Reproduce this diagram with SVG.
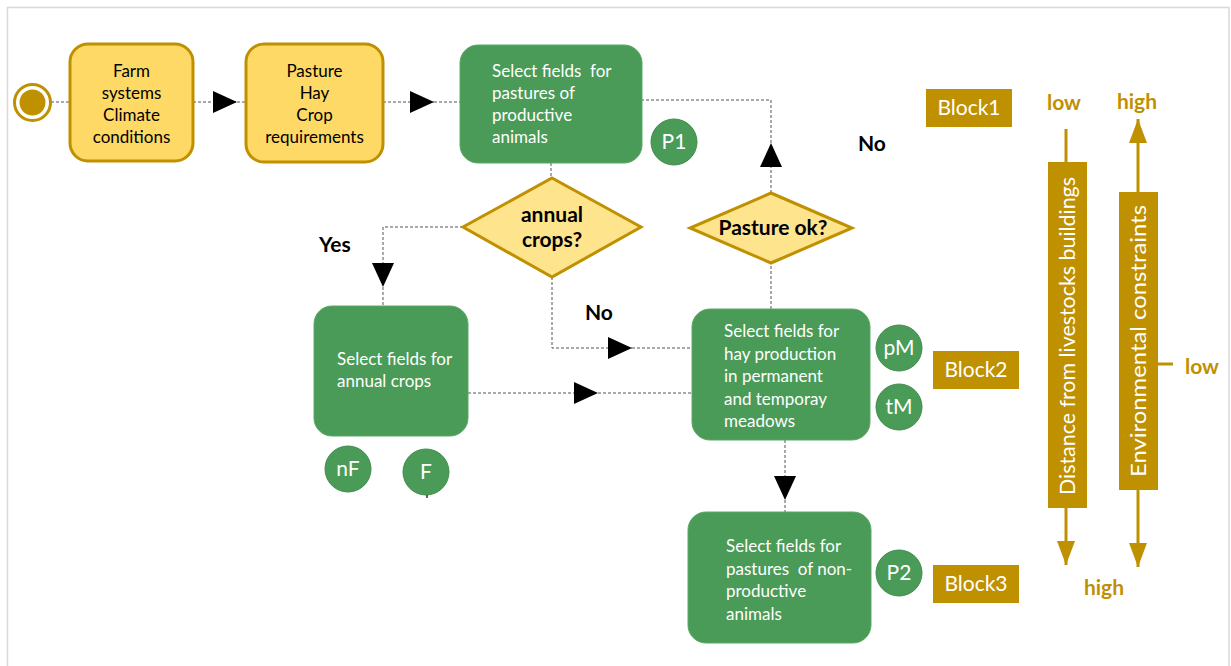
<svg xmlns="http://www.w3.org/2000/svg" width="1231" height="666" viewBox="0 0 1231 666">
<defs>
<marker id="ah" markerUnits="userSpaceOnUse" markerWidth="24" markerHeight="22" refX="24" refY="11" orient="auto"><path d="M0,0 L24,11 L0,22 z" fill="#000"/></marker>
<marker id="gu" markerUnits="userSpaceOnUse" markerWidth="24" markerHeight="18" refX="24" refY="9" orient="auto"><path d="M0,0 L24,9 L0,18 z" fill="#bf9000"/></marker>
<style>
.frame{fill:none;stroke:#d9d9d9;stroke-width:1.5}
.y{fill:#ffd966;stroke:#bf9000;stroke-width:3}
.d{fill:#ffe48e;stroke:#bf9000;stroke-width:3}
.g{fill:#4a9b57;stroke:#5aa866;stroke-width:1}
.c{fill:#4a9b57;stroke:#3f8a4b;stroke-width:1}
.blk{fill:#bf9000}
.cn{fill:none;stroke:#555;stroke-width:1;stroke-dasharray:3,2}
.ax{fill:none;stroke:#bf9000;stroke-width:3}
text{font-family:Lato,"Noto Sans",sans-serif}
.tb{font-size:17px;fill:#000;text-anchor:middle}
.tw{font-size:17px;fill:#fff}
.lb{font-size:21px;fill:#000;font-weight:bold}
.ci{font-size:21px;fill:#fff;text-anchor:middle}
.bt{font-size:21px;fill:#fff;text-anchor:middle}
.gt{font-size:21px;fill:#bf9000;font-weight:bold}
.rt{font-size:21px;fill:#fff;text-anchor:middle}
</style>
</defs>
<rect width="1231" height="666" fill="#fff"/>
<path class="frame" d="M7.5,666 V7.5 H1229 V666"/>

<g id="connectors">
<line class="cn" x1="51" y1="102" x2="70" y2="102"/>
<line class="cn" x1="193" y1="102" x2="237" y2="102" marker-end="url(#ah)"/>
<line class="cn" x1="237" y1="102" x2="246" y2="102"/>
<line class="cn" x1="383" y1="102" x2="434" y2="102" marker-end="url(#ah)"/>
<line class="cn" x1="434" y1="102" x2="460" y2="102"/>
<line class="cn" x1="551" y1="163" x2="551" y2="178"/>
<path class="cn" d="M463,227 H383 V287" marker-end="url(#ah)"/>
<line class="cn" x1="383" y1="287" x2="383" y2="306"/>
<path class="cn" d="M552,277 V348 H632" marker-end="url(#ah)"/>
<line class="cn" x1="632" y1="348" x2="692" y2="348"/>
<line class="cn" x1="468" y1="393" x2="598" y2="393" marker-end="url(#ah)"/>
<line class="cn" x1="598" y1="393" x2="692" y2="393"/>
<line class="cn" x1="771" y1="309" x2="771" y2="263"/>
<line class="cn" x1="771" y1="193" x2="771" y2="143" marker-end="url(#ah)"/>
<path class="cn" d="M771,143 V100 H642"/>
<line class="cn" x1="785" y1="440" x2="785" y2="500" marker-end="url(#ah)"/>
<line class="cn" x1="785" y1="500" x2="785" y2="512"/>
</g>

<g id="start">
<circle cx="32.5" cy="102.5" r="18" fill="#fff" stroke="#bf9000" stroke-width="3"/>
<circle cx="32.5" cy="102.5" r="13" fill="#bf9000"/>
</g>

<g id="box-farm">
<rect class="y" x="70" y="44" width="123" height="117" rx="18"/>
<text class="tb" x="131.5" y="77">Farm</text>
<text class="tb" x="131.5" y="99">systems</text>
<text class="tb" x="131.5" y="121">Climate</text>
<text class="tb" x="131.5" y="143">conditions</text>
</g>

<g id="box-req">
<rect class="y" x="246" y="44" width="137" height="118" rx="18"/>
<text class="tb" x="314.5" y="77">Pasture</text>
<text class="tb" x="314.5" y="99">Hay</text>
<text class="tb" x="314.5" y="121">Crop</text>
<text class="tb" x="314.5" y="143">requirements</text>
</g>

<g id="box-p1">
<rect class="g" x="460" y="45" width="182" height="118" rx="18"/>
<text class="tw" x="492" y="77" xml:space="preserve">Select fields  for</text>
<text class="tw" x="492" y="99">pastures of</text>
<text class="tw" x="492" y="121">productive</text>
<text class="tw" x="492" y="143">animals</text>
</g>

<g id="circle-p1">
<circle class="c" cx="674" cy="142" r="23"/>
<text class="ci" x="674" y="149">P1</text>
</g>

<g id="dec-annual">
<polygon class="d" points="552,178 641,227 552,277 463,227"/>
<text class="lb" x="552" y="222" text-anchor="middle">annual</text>
<text class="lb" x="552" y="247" text-anchor="middle">crops?</text>
</g>

<g id="dec-pasture">
<polygon class="d" points="771,193 852,228 771,263 690,228"/>
<text class="lb" x="773" y="235" text-anchor="middle">Pasture ok?</text>
</g>

<g id="labels">
<text class="lb" x="319" y="252">Yes</text>
<text class="lb" x="585" y="320">No</text>
<text class="lb" x="858" y="151">No</text>
</g>

<g id="box-annual">
<rect class="g" x="314" y="306" width="154" height="130" rx="18"/>
<text class="tw" x="337" y="365">Select fields for</text>
<text class="tw" x="337" y="387">annual crops</text>
</g>

<g id="circle-nf">
<circle class="c" cx="348" cy="469" r="23"/>
<text class="ci" x="348" y="476">nF</text>
</g>
<g id="circle-f">
<circle class="c" cx="426" cy="472" r="23"/>
<text class="ci" x="426" y="479">F</text>
<line x1="427" y1="495" x2="427" y2="498" stroke="#333" stroke-width="1.5"/>
</g>

<g id="box-hay">
<rect class="g" x="692" y="309" width="178" height="131" rx="18"/>
<text class="tw" x="724" y="337">Select fields for</text>
<text class="tw" x="724" y="359.5">hay production</text>
<text class="tw" x="724" y="382">in permanent</text>
<text class="tw" x="724" y="404.5">and temporay</text>
<text class="tw" x="724" y="427">meadows</text>
</g>

<g id="circle-pm">
<circle class="c" cx="899" cy="348" r="23"/>
<text class="ci" x="899" y="355">pM</text>
</g>
<g id="circle-tm">
<circle class="c" cx="899" cy="407" r="23"/>
<text class="ci" x="899" y="414">tM</text>
</g>

<g id="box-p2">
<rect class="g" x="688" y="512" width="183" height="131" rx="18"/>
<text class="tw" x="726" y="552">Select fields for</text>
<text class="tw" x="726" y="575" xml:space="preserve">pastures  of non-</text>
<text class="tw" x="726" y="597">productive</text>
<text class="tw" x="726" y="620">animals</text>
</g>

<g id="circle-p2">
<circle class="c" cx="899" cy="573" r="23"/>
<text class="ci" x="899" y="580">P2</text>
</g>

<g id="block1">
<rect class="blk" x="926" y="89" width="86" height="38"/>
<text class="bt" x="969" y="115">Block1</text>
</g>
<g id="block2">
<rect class="blk" x="933" y="351" width="86" height="38"/>
<text class="bt" x="976" y="377">Block2</text>
</g>
<g id="block3">
<rect class="blk" x="933" y="565" width="86" height="38"/>
<text class="bt" x="976" y="591">Block3</text>
</g>

<g id="axis-distance">
<line class="ax" x1="1066" y1="129" x2="1066" y2="162"/>
<line class="ax" x1="1066" y1="508" x2="1066" y2="565" marker-end="url(#gu)"/>
<rect class="blk" x="1048" y="162" width="39" height="346"/>
<text class="rt" transform="translate(1075,336) rotate(-90)" textLength="318" lengthAdjust="spacingAndGlyphs">Distance from livestocks buildings</text>
<text class="gt" x="1064" y="110" text-anchor="middle">low</text>
<text class="gt" x="1104" y="595" text-anchor="middle">high</text>
</g>

<g id="axis-env">
<line class="ax" x1="1138" y1="192" x2="1138" y2="119" marker-end="url(#gu)"/>
<line class="ax" x1="1138" y1="490" x2="1138" y2="567" marker-end="url(#gu)"/>
<rect class="blk" x="1119" y="192" width="39" height="298"/>
<text class="rt" transform="translate(1146,341) rotate(-90)" textLength="272" lengthAdjust="spacingAndGlyphs">Environmental constraints</text>
<line class="ax" x1="1158" y1="364" x2="1173" y2="364"/>
<text class="gt" x="1137" y="109" text-anchor="middle">high</text>
<text class="gt" x="1185" y="374">low</text>
</g>
</svg>
